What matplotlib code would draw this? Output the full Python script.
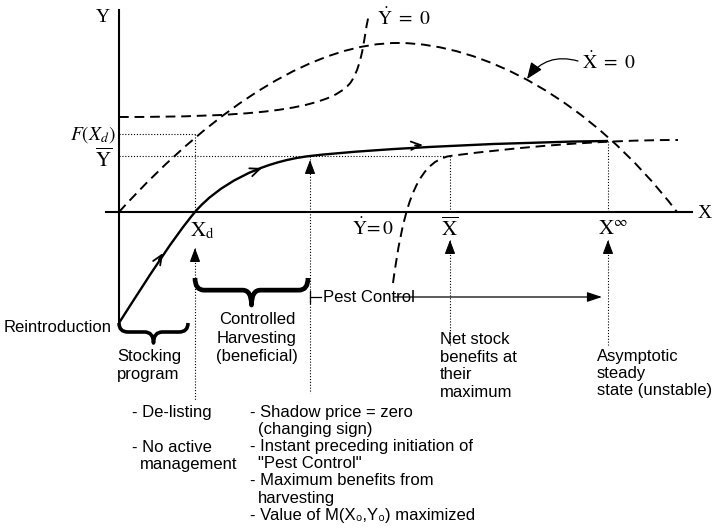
import matplotlib.pyplot as plt
from matplotlib.path import Path
from matplotlib.patches import PathPatch

plt.rcParams['mathtext.fontset'] = 'stix'
SANS = ['Liberation Sans', 'DejaVu Sans']
SERIF = ['Liberation Serif', 'DejaVu Serif']

# ---------------------------------------------------------
# Diagram units: origin where the axes cross, X = stock, Y = pest level
# Curves are cubic Bezier nodes: start, c1, c2, end, c1, c2, end ...
# ---------------------------------------------------------
xdot_x = [0, 100, 200, 281, 362, 470, 558]
xdot_y = [0, 110, 170, 169, 168, 115, 0]
ydot_upper_x = [0, 120, 210, 232, 245, 245, 250]
ydot_upper_y = [95, 95, 100, 130, 150, 180, 197]
ydot_lower_x = [274, 283, 295, 331, 400, 480, 559]
ydot_lower_y = [-71, -5, 50, 56, 65, 72, 72]
path_x = [0, 30, 55, 76, 98, 140, 191, 260, 400, 489]
path_y = [-111, -64, -25, 0, 26, 50, 56, 64, 70, 71]

# direction markers along the optimal path (tip, heading)
arrow_x = [44, 143, 304]
arrow_y = [-41, 44, 67]
arrow_dx = [23, 45, 50]
arrow_dy = [37, 17, 3]

# key levels
x_d, x_switch, x_bar, x_inf = 76, 191, 331, 489
f_xd, y_bar = 78, 56

notes_delist = ["- De-listing", "- No active", "management"]
notes_switch = ["- Shadow price = zero", "(changing sign)",
                "- Instant preceding initiation of", "\"Pest Control\"",
                "- Maximum benefits from", "harvesting",
                "- Value of M(X\u2080,Y\u2080) maximized"]


def bezier(ax, xs, ys, **kw):
    verts = list(zip(xs, ys))
    codes = [Path.MOVETO] + [Path.CURVE4] * (len(verts) - 1)
    ax.add_patch(PathPatch(Path(verts, codes), fill=False, capstyle='butt', **kw))


def brace(ax, x0, x1, y0, depth, lw):
    """Horizontal curly brace opening upward, tip pointing down."""
    xm = (x0 + x1) / 2
    ym = y0 - depth * 0.45
    yb = y0 - depth
    r = 9
    verts = [(x0, y0), (x0, ym), (x0 + r, ym), (xm - r, ym), (xm, ym), (xm, yb),
             (xm, ym), (xm + r, ym), (x1 - r, ym), (x1, ym), (x1, y0)]
    codes = [Path.MOVETO, Path.CURVE3, Path.CURVE3, Path.LINETO, Path.CURVE3, Path.CURVE3,
             Path.CURVE3, Path.CURVE3, Path.LINETO, Path.CURVE3, Path.CURVE3]
    ax.add_patch(PathPatch(Path(verts, codes), fill=False, lw=lw, joinstyle='round'))


def up_arrow(ax, x, tip):
    ax.annotate('', xy=(x, tip), xytext=(x, tip - 10),
                arrowprops=dict(arrowstyle='-|>,head_length=0.85,head_width=0.32',
                                color='k', lw=0.8, shrinkA=0, shrinkB=0))


def dotted(ax, xs, ys):
    ax.plot(xs, ys, color='k', lw=0.8, linestyle=(0, (1, 1.6)))


fig = plt.figure(figsize=(7.15, 5.28), dpi=100)
ax = fig.add_axes([0, 0, 1, 1])
ax.set_xlim(-119, 596)
ax.set_ylim(-316, 212)
ax.axis('off')

# axes
ax.plot([0, 0], [202, -111], color='k', lw=1.5)
ax.plot([-13, 573], [0, 0], color='k', lw=1.5)
ax.text(-16, 195, 'Y', family=SERIF, fontsize=14, ha='center', va='center')
ax.text(586, -2, 'X', family=SERIF, fontsize=14, ha='center', va='center')

# isoclines
dash = (0, (5, 3))
bezier(ax, xdot_x, xdot_y, lw=1.4, linestyle=dash)
bezier(ax, ydot_upper_x, ydot_upper_y, lw=1.4, linestyle=dash)
bezier(ax, ydot_lower_x, ydot_lower_y, lw=1.4, linestyle=dash)

# optimal path
bezier(ax, path_x, path_y, lw=1.7)
for x, y, dx, dy in zip(arrow_x, arrow_y, arrow_dx, arrow_dy):
    n = (dx ** 2 + dy ** 2) ** 0.5
    ax.annotate('', xy=(x, y), xytext=(x - 8 * dx / n, y - 8 * dy / n),
                arrowprops=dict(arrowstyle='->,head_length=0.7,head_width=0.3',
                                color='k', lw=1.3, shrinkA=0, shrinkB=0))

# reference levels
dotted(ax, [0, x_d], [f_xd, f_xd])
dotted(ax, [0, x_bar], [y_bar, y_bar])
dotted(ax, [x_d, x_d], [f_xd, 0])
dotted(ax, [x_d, x_d], [-36, -188])
dotted(ax, [x_switch, x_switch], [y_bar, -181])
dotted(ax, [x_bar, x_bar], [y_bar, 0])
dotted(ax, [x_bar, x_bar], [-28, -133])
dotted(ax, [x_inf, x_inf], [path_y[-1], 0])
dotted(ax, [x_inf, x_inf], [-28, -133])
up_arrow(ax, x_d, -36)
up_arrow(ax, x_switch, y_bar - 4)
up_arrow(ax, x_bar, -28)
up_arrow(ax, x_inf, -28)

# math labels
ax.text(-3, 77, r'$F(X_d)$', fontsize=14, ha='right', va='center')
ax.text(-15, 53, r'$\overline{\mathrm{Y}}$', fontsize=15, ha='center', va='center')
ax.text(71, -19, r'$\mathrm{X}_{\mathrm{d}}$', fontsize=15, ha='left', va='center')
ax.text(233, -16, r'$\dot{\mathrm{Y}}\!=0$', fontsize=14, ha='left', va='center')
ax.text(x_bar, -16, r'$\overline{\mathrm{X}}$', fontsize=15, ha='center', va='center')
ax.text(479, -16, r'$\mathrm{X}^{\infty}$', fontsize=15, ha='left', va='center')
ax.text(258, 194, r'$\dot{\mathrm{Y}}\ =\ 0$', fontsize=14, ha='left', va='center')
ax.text(463, 150, r'$\dot{\mathrm{X}}\ =\ 0$', fontsize=14, ha='left', va='center')
ax.annotate('', xy=(408, 133), xytext=(459, 151),
            arrowprops=dict(arrowstyle='-|>,head_length=1.0,head_width=0.4',
                            connectionstyle='arc3,rad=0.35', color='k', lw=0.9,
                            shrinkA=0, shrinkB=0))

# management phases
brace(ax, 0, 69, -111, 20, 2.6)
brace(ax, 76, 189, -66, 27, 3.4)
ax.text(-7, -115, 'Reintroduction', family=SANS, fontsize=12, ha='right', va='center')
ax.text(-2, -145, 'Stocking', family=SANS, fontsize=12, ha='left', va='center')
ax.text(-2, -162, 'program', family=SANS, fontsize=12, ha='left', va='center')
for i, s in enumerate(['Controlled', 'Harvesting', '(beneficial)']):
    ax.text(138, -108 - 18 * i, s, family=SANS, fontsize=12, ha='center', va='center')

ax.plot([x_switch, x_switch], [-79, -91], color='k', lw=0.9)
ax.plot([x_switch, 202], [-85, -85], color='k', lw=0.9)
ax.text(204, -85, 'Pest Control', family=SANS, fontsize=12, ha='left', va='center')
ax.annotate('', xy=(483, -85), xytext=(275, -85),
            arrowprops=dict(arrowstyle='-|>,head_length=0.9,head_width=0.3',
                            color='k', lw=0.9, shrinkA=0, shrinkB=0))

for i, s in enumerate(['Net stock', 'benefits at', 'their', 'maximum']):
    ax.text(321, -128 - 17.4 * i, s, family=SANS, fontsize=12, ha='left', va='center')
for i, s in enumerate(['Asymptotic', 'steady', 'state (unstable)']):
    ax.text(478, -144 - 17.4 * i, s, family=SANS, fontsize=12, ha='left', va='center')

# notes under the switching points
ax.text(13, -200, notes_delist[0], family=SANS, fontsize=12, ha='left', va='center')
ax.text(13, -235, notes_delist[1], family=SANS, fontsize=12, ha='left', va='center')
ax.text(21, -252, notes_delist[2], family=SANS, fontsize=12, ha='left', va='center')
for i, s in enumerate(notes_switch):
    x = 131 if s.startswith('-') else 139
    ax.text(x, -200 - 17.2 * i, s, family=SANS, fontsize=12, ha='left', va='center')

fig.savefig('out.png', dpi=100)
